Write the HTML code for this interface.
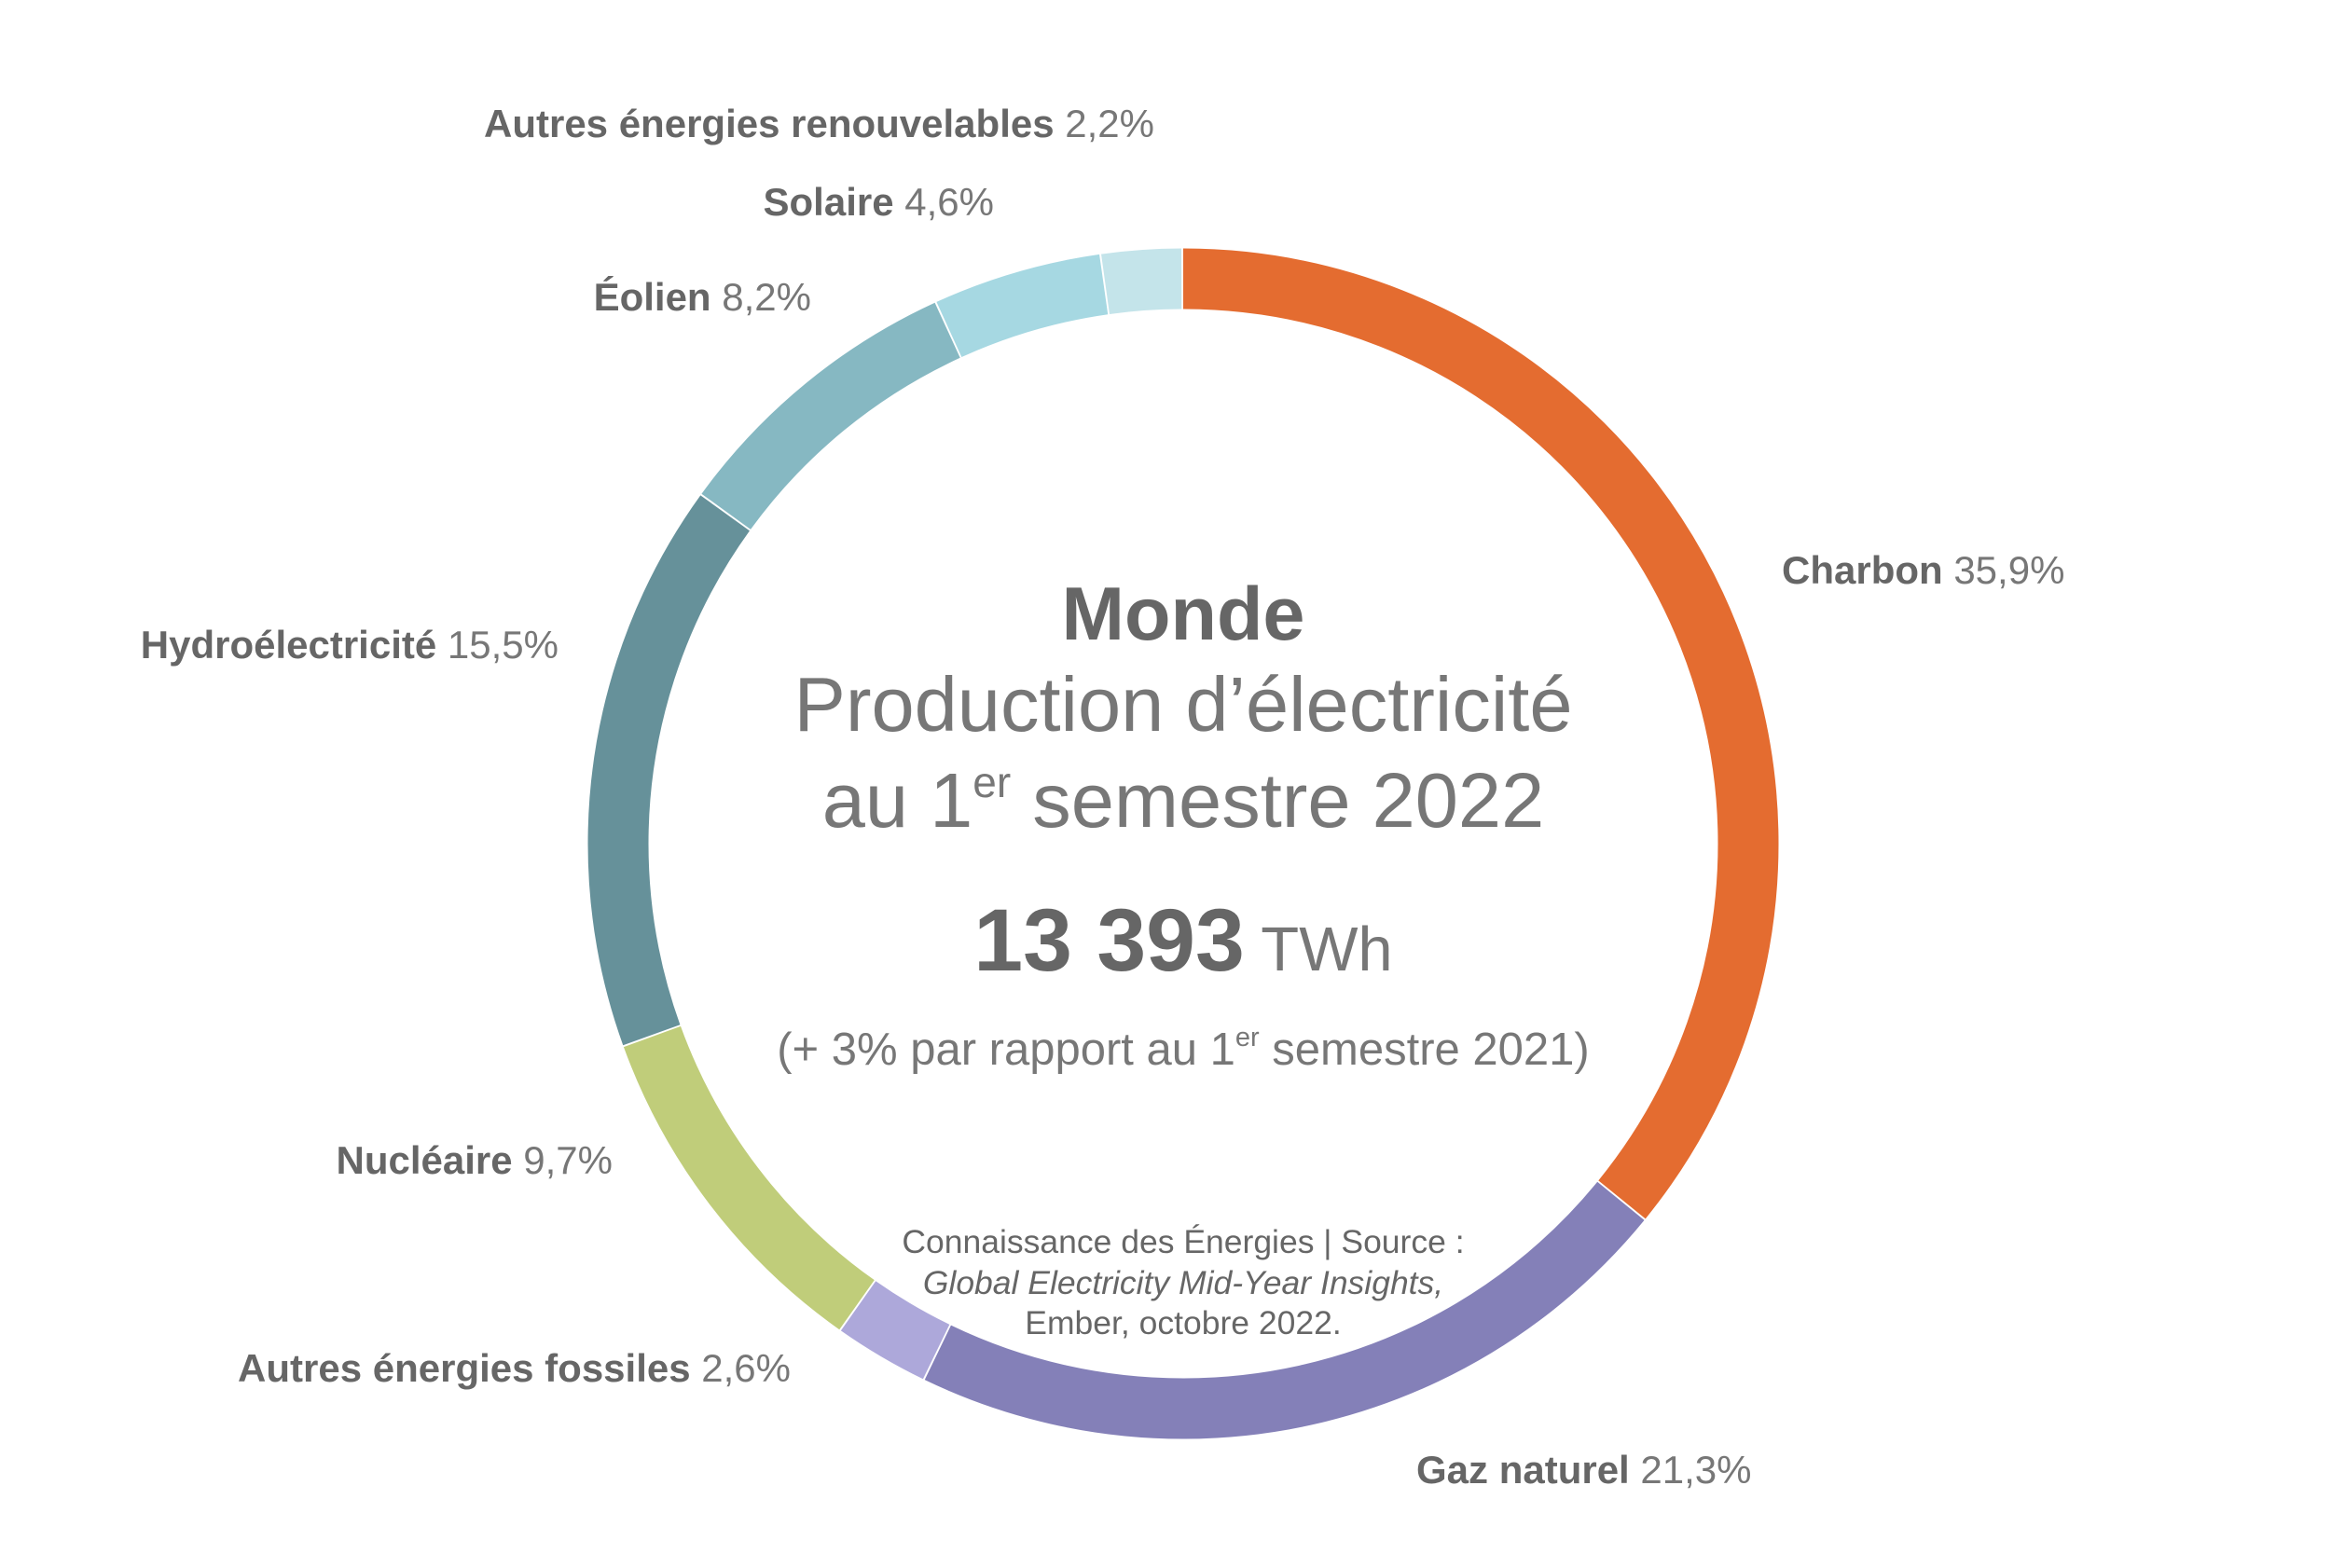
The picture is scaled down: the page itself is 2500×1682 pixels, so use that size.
<!DOCTYPE html>
<html><head><meta charset="utf-8"><style>
html,body{margin:0;padding:0;background:#fff;}
svg{display:block;}
text{font-family:"Liberation Sans",sans-serif;}
.b{font-weight:bold;fill:#666;}
.l{fill:#777;}
</style></head><body>
<svg width="2500" height="1682" viewBox="0 0 2500 1682">
<g transform="rotate(-90 1269 905)" fill="none" stroke-width="65">
<circle cx="1269" cy="905" r="606" pathLength="100" stroke="#E46C30" stroke-dasharray="35.85 64.15" stroke-dashoffset="0"/>
<circle cx="1269" cy="905" r="606" pathLength="100" stroke="#8480B8" stroke-dasharray="21.25 78.75" stroke-dashoffset="-35.9"/>
<circle cx="1269" cy="905" r="606" pathLength="100" stroke="#ADA8DA" stroke-dasharray="2.55 97.45" stroke-dashoffset="-57.2"/>
<circle cx="1269" cy="905" r="606" pathLength="100" stroke="#C0CD7A" stroke-dasharray="9.65 90.35" stroke-dashoffset="-59.8"/>
<circle cx="1269" cy="905" r="606" pathLength="100" stroke="#66919A" stroke-dasharray="15.45 84.55" stroke-dashoffset="-69.5"/>
<circle cx="1269" cy="905" r="606" pathLength="100" stroke="#86B8C2" stroke-dasharray="8.15 91.85" stroke-dashoffset="-85"/>
<circle cx="1269" cy="905" r="606" pathLength="100" stroke="#A6D8E2" stroke-dasharray="4.55 95.45" stroke-dashoffset="-93.2"/>
<circle cx="1269" cy="905" r="606" pathLength="100" stroke="#C4E4EA" stroke-dasharray="2.15 97.85" stroke-dashoffset="-97.8"/>
</g>
<g font-size="42">
<text x="1238" y="147" text-anchor="end"><tspan class="b">Autres énergies renouvelables</tspan><tspan class="l"> 2,2%</tspan></text>
<text x="1066" y="231" text-anchor="end"><tspan class="b">Solaire</tspan><tspan class="l"> 4,6%</tspan></text>
<text x="870" y="333" text-anchor="end"><tspan class="b">Éolien</tspan><tspan class="l"> 8,2%</tspan></text>
<text x="1911" y="626"><tspan class="b">Charbon</tspan><tspan class="l"> 35,9%</tspan></text>
<text x="599" y="706" text-anchor="end"><tspan class="b">Hydroélectricité</tspan><tspan class="l"> 15,5%</tspan></text>
<text x="657" y="1259" text-anchor="end"><tspan class="b">Nucléaire</tspan><tspan class="l"> 9,7%</tspan></text>
<text x="848" y="1482" text-anchor="end"><tspan class="b">Autres énergies fossiles</tspan><tspan class="l"> 2,6%</tspan></text>
<text x="1519" y="1591"><tspan class="b">Gaz naturel</tspan><tspan class="l"> 21,3%</tspan></text>
</g>
<g text-anchor="middle">
<text x="1269" y="686" font-size="81" class="b">Monde</text>
<text x="1269" y="784" font-size="83" class="l">Production d’électricité</text>
<text x="1269" y="887" font-size="83" class="l">au 1<tspan font-size="46" dy="-32">er</tspan><tspan dy="32"> semestre 2022</tspan></text>
<text x="1269" y="1041" font-size="95"><tspan class="b">13 393</tspan><tspan class="l" font-size="67"> TWh</tspan></text>
<text x="1269" y="1142" font-size="49" class="l">(+ 3% par rapport au 1<tspan font-size="29" dy="-20">er</tspan><tspan dy="20"> semestre 2021)</tspan></text>
<text x="1269" y="1344" font-size="35.5" fill="#666">Connaissance des Énergies | Source :</text>
<text x="1269" y="1388" font-size="35.5" fill="#666" font-style="italic">Global Electricity Mid-Year Insights,</text>
<text x="1269" y="1431" font-size="35.5" fill="#666">Ember, octobre 2022.</text>
</g>
</svg>
</body></html>
